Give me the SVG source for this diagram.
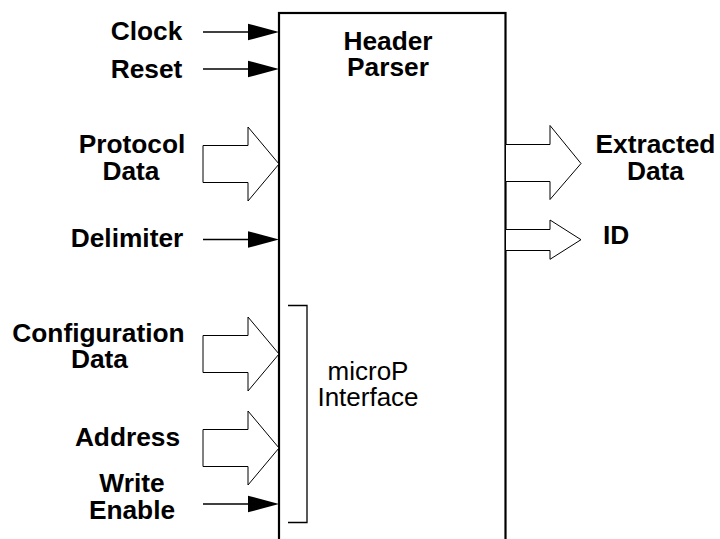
<svg xmlns="http://www.w3.org/2000/svg" width="720" height="539" viewBox="0 0 720 539">
  <style>
    .lbl { font-family: "Liberation Sans", Arial, Helvetica, sans-serif; font-size: 26.3px; font-weight: bold; fill: #000; text-anchor: middle; }
    .reg { font-family: "Liberation Sans", Arial, Helvetica, sans-serif; font-size: 26px; fill: #000; text-anchor: middle; }
    .wire { stroke: #000; stroke-width: 1.3; fill: none; }
    .bus { stroke: #000; stroke-width: 1; fill: #fff; stroke-linejoin: miter; }
    .head { fill: #000; stroke: none; }
  </style>
  <defs>
    <!-- wide bus arrow pointing right, tip at (0,0) -->
    <polygon id="busArrow" class="bus" points="-76,-18.5 -31,-18.5 -31,-37 0,0 -31,37 -31,18.5 -76,18.5"/>
    <!-- single-wire input, tip at (0,0) -->
    <g id="wireArrow">
      <line class="wire" x1="-76" y1="0" x2="-31" y2="0"/>
      <polygon class="head" points="-31,-8.3 0,0 -31,8.3"/>
    </g>
  </defs>

  <rect width="720" height="539" fill="#fff"/>

  <g id="header-parser">
    <rect x="279" y="13" width="226.5" height="540" fill="none" stroke="#000" stroke-width="2.2"/>
    <text class="lbl" x="388" y="49.5">Header</text>
    <text class="lbl" x="388" y="75.5">Parser</text>
  </g>

  <g id="micro-interface">
    <polyline class="wire" points="288,305.5 307,305.5 307,522.5 288,522.5" stroke-width="1.2"/>
    <text class="reg" x="368" y="380">microP</text>
    <text class="reg" x="368" y="405.5">Interface</text>
  </g>

  <g id="connectors">
    <use href="#wireArrow" x="279" y="32"/>
    <use href="#wireArrow" x="279" y="69"/>
    <use href="#busArrow" x="279" y="164"/>
    <use href="#wireArrow" x="279" y="239.5"/>
    <use href="#busArrow" x="279" y="354"/>
    <use href="#busArrow" x="279" y="448"/>
    <use href="#wireArrow" x="279" y="504"/>
    <polygon class="bus" points="505.5,144.5 550,144.5 550,125.5 581,163.5 550,199.5 550,181.5 505.5,181.5"/>
    <polygon class="bus" points="505.5,229.5 550,229.5 550,220 581,239.7 550,259.3 550,250.5 505.5,250.5"/>
  </g>

  <g id="clock"><text class="lbl" x="146.5" y="40">Clock</text></g>
  <g id="reset"><text class="lbl" x="146.5" y="78">Reset</text></g>
  <g id="protocol-data">
    <text class="lbl" x="132" y="153">Protocol</text>
    <text class="lbl" x="131" y="180">Data</text>
  </g>
  <g id="delimiter"><text class="lbl" x="127" y="247">Delimiter</text></g>
  <g id="configuration-data">
    <text class="lbl" x="98.5" y="341.5">Configuration</text>
    <text class="lbl" x="99.5" y="367.5">Data</text>
  </g>
  <g id="address"><text class="lbl" x="127.5" y="445.5">Address</text></g>
  <g id="write-enable">
    <text class="lbl" x="132" y="492">Write</text>
    <text class="lbl" x="132" y="519">Enable</text>
  </g>
  <g id="extracted-data">
    <text class="lbl" x="655.5" y="153">Extracted</text>
    <text class="lbl" x="655.5" y="179.5">Data</text>
  </g>
  <g id="id-out"><text class="lbl" x="603" y="244" style="text-anchor:start">ID</text></g>
</svg>
